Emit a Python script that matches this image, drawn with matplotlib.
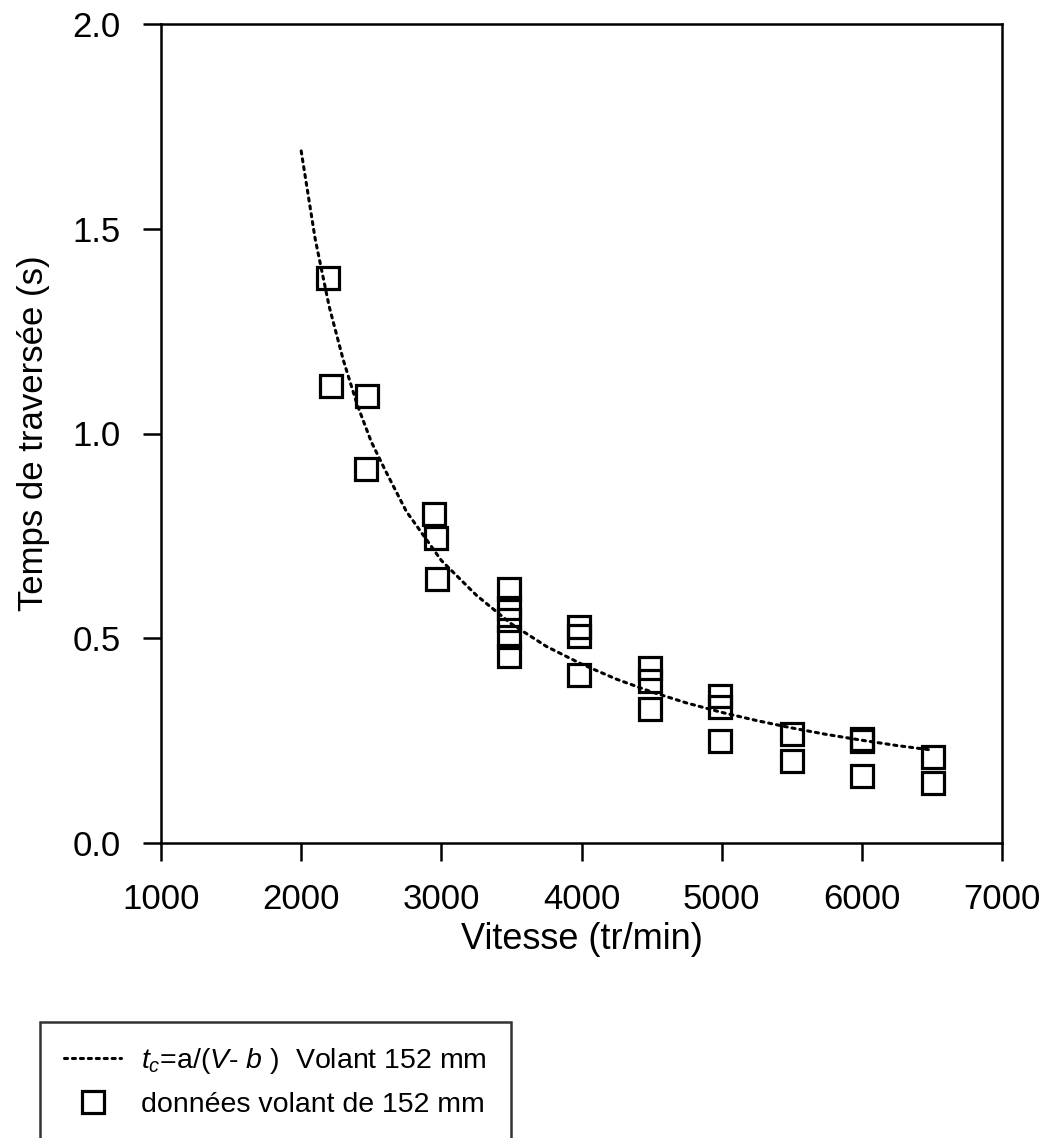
import matplotlib
matplotlib.use("Agg")
import matplotlib.pyplot as plt

# measured points, vitesse (tr/min) vs temps de traversee (s)
vitesse = [2190, 2210, 2470, 2460,
           2950, 2960, 2970,
           3480, 3480, 3480, 3480, 3480,
           3980, 3980, 3980,
           4490, 4490, 4490,
           4990, 4990, 4990,
           5500, 5500,
           6000, 6000, 6000,
           6510, 6510]
temps = [1.38, 1.116, 1.092, 0.913,
         0.803, 0.745, 0.645,
         0.620, 0.575, 0.545, 0.503, 0.457,
         0.527, 0.506, 0.410,
         0.428, 0.396, 0.327,
         0.359, 0.333, 0.249,
         0.266, 0.200,
         0.255, 0.248, 0.164,
         0.210, 0.146]

# fitted curve t_c = a/(V - b)
courbe_v = [2000, 2100, 2200, 2300, 2400, 2500, 2600, 2750, 3000, 3250,
            3500, 3750, 4000, 4250, 4500, 4750, 5000, 5250, 5500, 5750,
            6000, 6250, 6500]
courbe_t = [1.69, 1.475, 1.31, 1.18, 1.07, 0.98, 0.91, 0.81, 0.69, 0.605,
            0.535, 0.48, 0.437, 0.40, 0.369, 0.342, 0.319, 0.299, 0.281, 0.265,
            0.251, 0.238, 0.227]

x_ticks = [1000, 2000, 3000, 4000, 5000, 6000, 7000]
y_ticks = [0.0, 0.5, 1.0, 1.5, 2.0]

plt.rcParams['font.family'] = ['Liberation Sans', 'DejaVu Sans']
plt.rcParams['mathtext.fontset'] = 'custom'
plt.rcParams['mathtext.it'] = 'Liberation Sans:italic'
plt.rcParams['mathtext.rm'] = 'Liberation Sans'

fig = plt.figure(figsize=(10.48, 11.38), dpi=100)
ax = fig.add_axes([161 / 1048, 1 - 843 / 1138, (1002 - 161) / 1048, (843 - 24) / 1138])

ax.plot(courbe_v, courbe_t, color='black', linewidth=2.2, linestyle=(0, (1, 1.6)),
        dash_capstyle='round', label=r'$t_c$=a/($V$- $b$ )  Volant 152 mm')
ax.plot(vitesse, temps, linestyle='none', marker='s', markersize=16,
        markerfacecolor='none', markeredgecolor='black', markeredgewidth=2.3,
        label='données volant de 152 mm')

ax.set_xlim(1000, 7000)
ax.set_ylim(0, 2.0)
ax.set_xticks(x_ticks)
ax.set_yticks(y_ticks)
ax.set_yticklabels([f"{v:.1f}" for v in y_ticks])
ax.tick_params(direction='out', length=13, width=1.8, labelsize=25,
               top=False, right=False)
ax.tick_params(axis='x', pad=16)
ax.tick_params(axis='y', pad=16)
for s in ax.spines.values():
    s.set_linewidth(1.8)

ax.set_xlabel('Vitesse (tr/min)', fontsize=26, labelpad=4)
ax.set_ylabel('Temps de traversée (s)', fontsize=25, labelpad=16)

# legend box runs off the bottom edge, as in the scan
leg = fig.legend(loc='upper left', bbox_to_anchor=(40 / 1048, 1 - 1022 / 1138),
                 fontsize=20.5, frameon=True, fancybox=False, edgecolor='black',
                 handlelength=2.0, borderpad=0.85, labelspacing=0.55,
                 handletextpad=0.7, borderaxespad=0)
leg.get_frame().set_linewidth(1.8)

fig.savefig('out.png', dpi=100)
